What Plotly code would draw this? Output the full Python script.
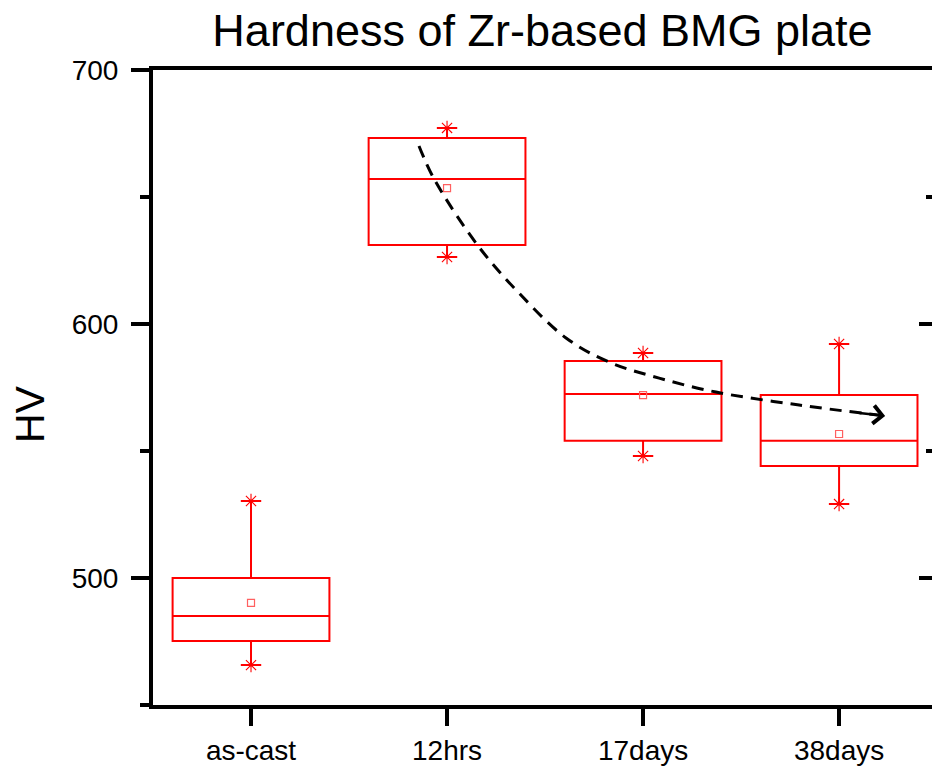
import plotly.graph_objects as go

categories = ["as-cast", "12hrs", "17days", "38days"]
positions = [0, 1, 2, 3]
q1 = [475.2, 631.1, 554.0, 544.1]
median = [485.0, 657.1, 572.4, 554.0]
q3 = [500.0, 673.2, 585.4, 572.0]
lower = [465.7, 626.4, 548.0, 529.1]
upper = [530.3, 677.2, 588.6, 592.1]
mean = [490.2, 653.5, 572.0, 556.7]

# dashed trend arrow (data coords)
trend_x = [0.857, 0.934, 1.163, 1.367, 1.607, 1.827, 2.082, 2.372, 2.796, 3.235]
trend_y = [670.1, 657.1, 630.3, 612.2, 594.5, 585.0, 578.7, 573.2, 568.1, 563.8]

RED = "#FF0000"
FONT = "Liberation Sans, Arial, sans-serif"

fig = go.Figure()
for i in range(len(categories)):
    fig.add_trace(go.Box(
        x=[positions[i]], q1=[q1[i]], median=[median[i]], q3=[q3[i]],
        lowerfence=[lower[i]], upperfence=[upper[i]],
        width=0.8, whiskerwidth=0.13,
        line=dict(color=RED, width=2), fillcolor="white",
        boxpoints=False, showlegend=False, hoverinfo="skip",
    ))

# whisker-end stars
fig.add_trace(go.Scatter(
    x=positions + positions, y=lower + upper, mode="markers",
    marker=dict(symbol="asterisk-open", size=12, color=RED, line=dict(color=RED, width=1.1)),
    showlegend=False, hoverinfo="skip"))
# mean squares
fig.add_trace(go.Scatter(
    x=positions, y=mean, mode="markers",
    marker=dict(symbol="square-open", size=7, color="#FF6060", line=dict(color="#FF6060", width=1.2)),
    showlegend=False, hoverinfo="skip"))
# trend line
fig.add_trace(go.Scatter(
    x=trend_x, y=trend_y, mode="lines", line=dict(color="black", width=3, dash="12px,8px", shape="spline"),
    showlegend=False, hoverinfo="skip"))
fig.add_annotation(x=trend_x[-1], y=trend_y[-1], ax=trend_x[-2] + 0.3, ay=trend_y[-1] + 1.2,
                   xref="x", yref="y", axref="x", ayref="y", text="", showarrow=True,
                   arrowhead=4, arrowsize=1.4, arrowwidth=2.5, arrowcolor="black")

# dummy for right axis
fig.add_trace(go.Scatter(x=[None], y=[None], yaxis="y2", showlegend=False, hoverinfo="skip"))

fig.add_annotation(text="HV", xref="paper", yref="paper", x=-0.158, y=0.458,
                   xanchor="center", yanchor="middle",
                   showarrow=False, textangle=-90, font=dict(family=FONT, size=41, color="black"))

fig.update_layout(
    width=932, height=770,
    margin=dict(l=153, r=0, t=70, b=65),
    paper_bgcolor="white", plot_bgcolor="white",
    title=dict(text="Hardness of Zr-based BMG plate", x=0.5, xref="paper", xanchor="center",
               y=1 - 30 / 770, yref="container", yanchor="middle",
               font=dict(family=FONT, size=45, color="black")),
    font=dict(family=FONT, color="black"),
    xaxis=dict(range=[-0.5, 3.474], tickvals=positions, ticktext=categories,
               showline=True, linecolor="black", linewidth=4, mirror=True,
               ticks="outside", ticklen=17, tickwidth=4, tickcolor="black",
               showgrid=False, zeroline=False, tickfont=dict(family=FONT, size=28)),
    yaxis=dict(range=[450, 700], tickvals=[500, 600, 700], showline=True, linecolor="black",
               linewidth=4, ticks="outside", ticklen=18, tickwidth=4, tickcolor="black",
               minor=dict(tickvals=[450, 550, 650], ticks="outside", ticklen=9, tickwidth=4, tickcolor="black"),
               showgrid=False, zeroline=False, tickfont=dict(family=FONT, size=28),
               ticklabelstandoff=7),
    yaxis2=dict(range=[450, 700], overlaying="y", side="right", tickvals=[500, 600, 700],
                ticks="inside", ticklen=13, tickwidth=4, tickcolor="black", showticklabels=False,
                minor=dict(tickvals=[550, 650], ticks="inside", ticklen=6, tickwidth=4, tickcolor="black"),
                showline=False, showgrid=False, zeroline=False),
)

fig.write_html("out.html")
